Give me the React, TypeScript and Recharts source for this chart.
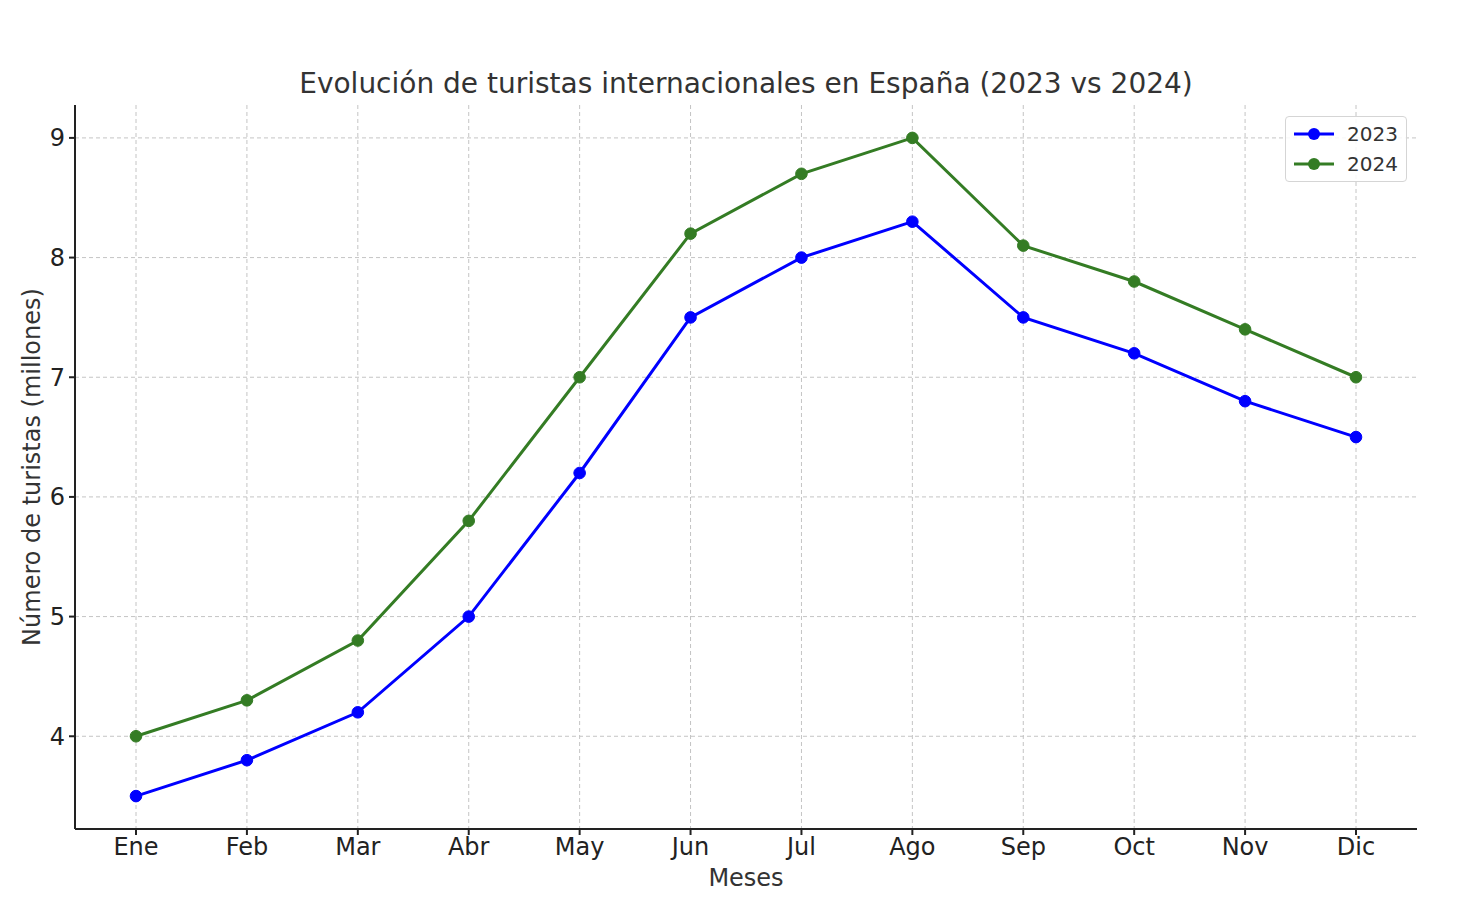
import React from "react"
import {
  LineChart,
  Line,
  XAxis,
  YAxis,
  CartesianGrid,
  Label,
} from "recharts"

const MONTHS = ["Ene", "Feb", "Mar", "Abr", "May", "Jun", "Jul", "Ago", "Sep", "Oct", "Nov", "Dic"]
const TOURISTS_2023 = [3.5, 3.8, 4.2, 5.0, 6.2, 7.5, 8.0, 8.3, 7.5, 7.2, 6.8, 6.5]
const TOURISTS_2024 = [4.0, 4.3, 4.8, 5.8, 7.0, 8.2, 8.7, 9.0, 8.1, 7.8, 7.4, 7.0]
const Y_TICKS = [4, 5, 6, 7, 8, 9]

const BLUE = "#0000ff"
const GREEN = "#347c24"
const FONT = "'DejaVu Sans', sans-serif"

const data = MONTHS.map((mes, i) => ({
  mes,
  y2023: TOURISTS_2023[i],
  y2024: TOURISTS_2024[i],
}))

function LegendBox() {
  const row = (color: string, label: string) => (
    <div style={{ display: "flex", alignItems: "center", height: 30 }}>
      <svg width={44} height={14} style={{ marginRight: 12 }}>
        <line x1={2} y1={7} x2={42} y2={7} stroke={color} strokeWidth={3} />
        <circle cx={22} cy={7} r={6} fill={color} />
      </svg>
      <span style={{ fontSize: 20, color: "#333" }}>{label}</span>
    </div>
  )
  return (
    <div
      style={{
        position: "absolute",
        left: 1285,
        top: 116,
        boxSizing: "border-box",
        width: 122,
        height: 66,
        border: "1.5px solid #d5d5d5",
        borderRadius: 4,
        background: "rgba(255,255,255,0.85)",
        padding: "2px 8px 2px 6px",
        fontFamily: FONT,
      }}
    >
      {row(BLUE, "2023")}
      {row(GREEN, "2024")}
    </div>
  )
}

export default function App() {
  return (
    <div style={{ position: "absolute", left: 0, top: 0, width: 1462, height: 918, background: "#fff", fontFamily: FONT }}>
      <div
        style={{
          position: "absolute",
          left: 0,
          width: 1492,
          top: 67,
          textAlign: "center",
          fontSize: 28,
          color: "#333",
        }}
      >
        Evolución de turistas internacionales en España (2023 vs 2024)
      </div>
      <LineChart
        width={1462}
        height={918}
        data={data}
        margin={{ top: 105, right: 45, left: 0, bottom: 29 }}
      >
        <CartesianGrid stroke="#c4c4c4" strokeDasharray="4 3" strokeWidth={1} syncWithTicks />
        <XAxis
          dataKey="mes"
          padding={{ left: 61, right: 61 }}
          height={60}
          stroke="#222"
          strokeWidth={2}
          tickSize={6}
          tick={{ fontSize: 24, fill: "#222", fontFamily: FONT }}
          tickMargin={3}
        >
          <Label value="Meses" position="insideBottom" offset={3} style={{ fontSize: 24, fill: "#333", fontFamily: FONT }} />
        </XAxis>
        <YAxis
          type="number"
          domain={[3.225, 9.275]}
          ticks={Y_TICKS}
          width={75}
          stroke="#222"
          strokeWidth={2}
          tickSize={6}
          tick={{ fontSize: 24, fill: "#222", fontFamily: FONT }}
          tickMargin={4}
          allowDataOverflow
        >
          <Label
            value="Número de turistas (millones)"
            angle={-90}
            position="insideLeft"
            offset={31}
            style={{ fontSize: 24, fill: "#333", fontFamily: FONT, textAnchor: "middle" }}
          />
        </YAxis>
        <Line
          dataKey="y2023"
          name="2023"
          stroke={BLUE}
          strokeWidth={3}
          dot={{ r: 5.8, fill: BLUE, stroke: BLUE, strokeWidth: 1 }}
          activeDot={false}
          isAnimationActive={false}
        />
        <Line
          dataKey="y2024"
          name="2024"
          stroke={GREEN}
          strokeWidth={3}
          dot={{ r: 5.8, fill: GREEN, stroke: GREEN, strokeWidth: 1 }}
          activeDot={false}
          isAnimationActive={false}
        />
      </LineChart>
      <LegendBox />
    </div>
  )
}
